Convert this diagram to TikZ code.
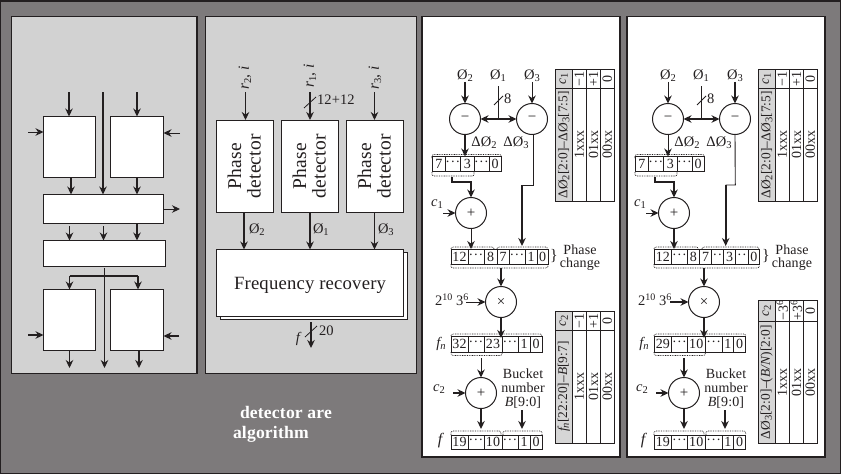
\documentclass[tikz,border=0pt]{standalone}
\usepackage{fontspec}
\setmainfont{Liberation Serif}[LetterSpace=1.0]
\usetikzlibrary{arrows.meta,calc}
\definecolor{ink}{HTML}{231F20}
\definecolor{bgdark}{HTML}{7D7A7B}
\definecolor{panelgray}{HTML}{D2D2D2}
\definecolor{cellgray}{HTML}{D6D6D6}
\newcommand{\fs}[1]{\fontsize{#1}{#1}\selectfont}
\newcommand{\lowsub}[1]{\raisebox{-0.3ex}{\fs{10.5}#1}}
\newcommand{\highsup}[1]{\raisebox{0.75ex}{\fs{10}#1}}
\newcommand{\Oz}[1]{Ø\lowsub{#1}}
\newcommand{\dOz}[1]{ΔØ\lowsub{#1}}
\newcommand{\dd}{·\kern.4pt·\kern.4pt·}
\newcommand{\mkcell}[6]{\node[cell,minimum width={(#3-#2)*1pt},minimum height={(#5-#4)*1pt}] (#1) at ({(#2+#3)/2},{(#4+#5)/2}) {#6};}
\newcommand{\mkhead}[6]{\node[cell,fill=cellgray,font=\fs{13.4},minimum width={(#3-#2)*1pt},minimum height={(#5-#4)*1pt}] (#1) at ({(#2+#3)/2},{(#4+#5)/2}) {\rotatebox{90}{#6}};}
\newcommand{\mkrot}[6]{\node[cell,minimum width={(#3-#2)*1pt},minimum height={(#5-#4)*1pt}] (#1) at ({(#2+#3)/2},{(#4+#5)/2}) {\rotatebox{90}{#6}};}
\tikzset{
  x=1pt,y=-1pt,
  every node/.style={text=ink,inner sep=0pt,outer sep=0pt},
  box/.style={draw=ink,fill=white,line width=1pt,align=center},
  cell/.style={draw=ink,fill=white,line width=0.9pt,font=\fs{14}},
  panelp/.style={draw=ink,line width=1.5pt},
  pdbox/.style={box,minimum width=57pt,minimum height=92.5pt,font=\fs{19}},
  op/.style={draw=ink,fill=white,circle,line width=1pt,minimum size=31pt,font=\fs{15}},
  lab/.style={font=\fs{14.5}},
  labs/.style={font=\fs{14}},
  arr/.style={draw=ink,line width=0.9pt,-{Stealth[length=8pt,width=7.5pt,inset=2.6pt]}},
  arrb/.style={draw=ink,line width=1.6pt,-{Stealth[length=8pt,width=7.5pt,inset=2.6pt]}},
  linet/.style={draw=ink,line width=0.9pt},
  lineb/.style={draw=ink,line width=1.6pt},
  dotp/.style={draw=ink,line width=0.7pt,dash pattern=on 0.8pt off 0.9pt,rounded corners=2pt},
  slash/.style={draw=ink,line width=0.8pt},
}
\begin{document}
\begin{tikzpicture}
\useasboundingbox (0,0) rectangle (841,474);
\fill[bgdark] (0,0) rectangle (841,474);
\draw[ink,line width=2pt] (0,0) rectangle (841,474);
\fill[ink] (0,0) rectangle (841,2);
% panels
\filldraw[panelp,fill=panelgray] (11.5,16.5) rectangle (197,373.5);
\filldraw[panelp,fill=panelgray] (205.5,16.5) rectangle (416.5,373.5);
\filldraw[panelp,fill=white] (422,16.5) rectangle (620,457);
\filldraw[panelp,fill=white] (627,16.5) rectangle (825,457);
% panel 1
\node[box,minimum width=52pt,minimum height=60.5pt] (tl) at (69.5,146.75) {};
\node[box,minimum width=53pt,minimum height=60.5pt] (tr) at (137,146.75) {};
\node[box,minimum width=120pt,minimum height=28.5pt] (wa) at (103.5,208.75) {};
\node[box,minimum width=122pt,minimum height=26pt] (wb) at (104.5,253.5) {};
\node[box,minimum width=52pt,minimum height=61pt] (bl) at (69.5,320) {};
\node[box,minimum width=53pt,minimum height=61pt] (br) at (137,320) {};
\coordinate (t1) at (69,92); \coordinate (t2) at (103,92); \coordinate (t3) at (137,92);
\draw[arrb] (t1) -- (t1 |- tl.north);
\draw[arrb] (t2) -- (t2 |- wa.north);
\draw[arrb] (t3) -- (t3 |- tr.north);
\coordinate (s1) at (28,132); \coordinate (s2) at (180,133); \coordinate (s3) at (180,209);
\draw[arr] (s1) -- (s1 -| tl.west);
\draw[arr] (s2) -- (s2 -| tr.east);
\draw[arr] (s3 -| wa.east) -- (s3);
\draw[arrb] ([xshift=1.5pt]tl.south) -- ([xshift=1.5pt]tl.south |- wa.north);
\draw[arrb] (tr.south) -- (tr.south |- wa.north);
\draw[arr] ([yshift=-3pt]tl.south |- wa.south) -- (tl.south |- wb.north);
\draw[arrb] ([yshift=-3pt]wa.south) -- (wa.south |- wb.north);
\draw[arrb] (tr.south |- wa.south) -- (tr.south |- wb.north);
\coordinate (busl) at (69.5,276); \coordinate (busr) at (138,276);
\draw[lineb] (busl) -- (busr);
\draw[arrb] (busl) -- (busl |- bl.north);
\draw[arrb] (busr) -- (busr |- br.north);
\coordinate (v1) at (104.5,268); \coordinate (v2) at (104.5,368);
\draw[arr] (v1) -- (v2);
\coordinate (s4) at (28,335); \coordinate (s5) at (179,336);
\draw[arrb] (s4) -- (s4 -| bl.west);
\draw[arrb] (s5) -- (s5 -| br.east);
\coordinate (e1) at (69.5,368); \coordinate (e2) at (139,368);
\draw[arr] (e1 |- bl.south) -- (e1);
\draw[arrb] (e2 |- br.south) -- (e2);
% panel 2
\newcommand{\phdet}{\hspace*{4pt}\rotatebox{90}{\fs{19.5}\baselineskip=20pt\begin{tabular}{@{}c@{}}Phase\\detector\end{tabular}}}
\node[pdbox] (pa) at (245,166.25) {\phdet};
\node[pdbox] (pb) at (310,166.25) {\phdet};
\node[pdbox] (pc) at (375,166.25) {\phdet};
\node[lab,rotate=90,font=\fs{15.5}] (ra) at (245,78) {\itshape r\lowsub{\upshape 2}, i};
\node[lab,rotate=90,font=\fs{15.5}] (rb) at (310,76) {\itshape r\lowsub{\upshape 1}, i};
\node[lab,rotate=90,font=\fs{15.5}] (rc) at (375,78) {\itshape r\lowsub{\upshape 3}, i};
\coordinate (ar) at (245.5,92); \coordinate (br1) at (310,92); \coordinate (cr) at (374.5,92);
\draw[arr] (ar) -- (ar |- pa.north);
\draw[arrb] (br1) -- (br1 |- pb.north);
\draw[arr] (cr) -- (cr |- pc.north);
\draw[slash] (304,108) -- (316,97);
\node[lab,anchor=west] (wd) at (317,100) {12+12};
\node[box,minimum width=187pt,minimum height=67pt] (frs) at (314,286) {};
\node[box,minimum width=187pt,minimum height=67pt,font=\fs{18.7}] (fr) at (310,283) {\smash{\raisebox{-6pt}{Frequency recovery}}};
\coordinate (oa) at (244,212.5); \coordinate (ob) at (310,212.5); \coordinate (oc) at (374.5,212.5);
\draw[arrb] (oa) -- (oa |- fr.north);
\draw[arrb] (ob) -- (ob |- fr.north);
\draw[arr] (oc) -- (oc |- fr.north);
\node[lab,anchor=west] (la) at (249,230) {\Oz{2}};
\node[lab,anchor=west] (lb) at (313,230) {\Oz{1}};
\node[lab,anchor=west] (lc) at (378,230) {\Oz{3}};
\coordinate (fo) at (311,348);
\draw[arrb] (fo |- 0,322) -- (fo);
\draw[slash] (305,337) -- (317,326);
\node[lab] (ff) at (298,339) {\itshape f};
\node[lab,anchor=west] (f20) at (319,331) {20};
% caption
\node[anchor=west,text=white,font=\fs{17.6}\bfseries] (cap1) at (240,412) {detector are};
\node[anchor=west,text=white,font=\fs{17.6}\bfseries] (cap2) at (233,434) {algorithm};
% panel 3
\begin{scope}
\node[lab] (aO2) at (465,76) {\Oz{2}};
\node[lab] (aO1) at (498,76) {\Oz{1}};
\node[lab] (aO3) at (532,76) {\Oz{3}};
\node[op] (asa) at (465,119) {−};
\node[op] (asb) at (532,119) {−};
\coordinate (aj) at (498.5,119); \coordinate (ajt) at (498.5,86);
\draw[arrb] (aO2.south) -- (asa.north);
\draw[arr] (aO3.south) -- (asb.north);
\draw[linet] (ajt) -- (aj);
\draw[draw=ink,line width=1.6pt,{Stealth[length=8pt,width=7.5pt,inset=2.6pt]}-{Stealth[length=8pt,width=7.5pt,inset=2.6pt]}] (asa.east) -- (asb.west);
\draw[slash] (494,105) -- (503,96);
\node[lab,anchor=west] (a8) at (504,99) {8};
\node[lab] (adA) at (484,143) {\dOz{2}};
\node[lab] (adB) at (516,143) {\dOz{3}};
\mkcell{ar1a}{432.5}{445}{156.5}{171.5}{7}
\mkcell{ar1b}{445}{460.7}{156.5}{171.5}{\dd}
\mkcell{ar1c}{460.7}{474}{156.5}{171.5}{3}
\mkcell{ar1d}{474}{489}{156.5}{171.5}{\dd}
\mkcell{ar1e}{489}{501}{156.5}{171.5}{0}
\draw[dotp] (432,156) -- (432,154.5) -- (501.5,154.5) -- (501.5,156);
\draw[dotp] (432,172) -- (432,176) -- (474,176) -- (474,172);
\draw[arrb] (asa.south) -- (asa.south |- ar1a.north);
\node[op] (aaa) at (471,213) {+};
\coordinate (ak1) at (452,177); \coordinate (ak2) at (452,182);
\draw[arrb] (ak1) -- (ak2) -| (aaa.north);
\node[lab] (ac1) at (437,204) {\itshape c\lowsub{\upshape 1}};
\coordinate (ac1s) at (443,213);
\draw[arr] (ac1s) -- (aaa.west);
\mkcell{ar2a}{451}{468}{249}{264}{12}
\mkcell{ar2b}{468}{484}{249}{264}{\dd}
\mkcell{ar2c}{484}{497}{249}{264}{8}
\mkcell{ar2d}{497}{509}{249}{264}{7}
\mkcell{ar2e}{509}{525}{249}{264}{\dd}
\mkcell{ar2f}{525}{537}{249}{264}{1}
\mkcell{ar2g}{537}{548}{249}{264}{0}
\draw[dotp] (451,249) -- (451,247) -- (494,247) -- (494,249);
\draw[dotp] (497,249) -- (497,247) -- (547.5,247) -- (547.5,249);
\draw[dotp] (451,264) -- (451,268) -- (548,268) -- (548,264);
\draw[arr] (aaa.south) -- (aaa.south |- ar2a.north);
\coordinate (ab1) at (533,185); \coordinate (ab2) at (522,185); \coordinate (ab3) at (522,246);
\draw[linet] ([xshift=1pt]asb.south) -- (ab1) -- (ab2);
\draw[arrb] (ab2) -- (ab3);
\node[font=\fs{16}] (abr) at (554,256) {\}};
\node[labs] (aph) at (580,249.5) {Phase};
\node[labs] (ach) at (580,264) {change};
\node[op] (amu) at (501,302) {×};
\coordinate (am0) at (501,268);
\draw[arrb] (am0) -- (amu.north);
\node[lab,anchor=west] (a2p) at (435,300) {2\highsup{10} 3\highsup{6}};
\coordinate (a2s) at (466,302);
\draw[arr] (a2s) -- (amu.west);
\mkcell{ar3a}{451}{468}{336}{352}{32}
\mkcell{ar3b}{468}{484}{336}{352}{\dd}
\mkcell{ar3c}{484}{502}{336}{352}{23}
\mkcell{ar3d}{502}{518}{336}{352}{\dd}
\mkcell{ar3e}{518}{530}{336}{352}{1}
\mkcell{ar3f}{530}{542}{336}{352}{0}
\draw[dotp] (451,336) -- (451,334) -- (542,334) -- (542,336);
\draw[dotp] (451,352) -- (451,355.5) -- (502,355.5) -- (502,352);
\draw[arrb] (amu.south) -- ([yshift=-2pt]amu.south |- ar3c.north);
\node[lab] (afn) at (441,344) {\itshape f\lowsub{n}};
\node[op] (aab) at (481,393) {+};
\coordinate (ap1) at (481,358);
\draw[arr] (ap1) -- (aab.north);
\node[lab] (ac2) at (439,389) {\itshape c\lowsub{\upshape 2}};
\coordinate (ac2s) at (453,393);
\draw[arrb] (ac2s) -- (aab.west);
\node[labs] (abu1) at (523,374) {Bucket};
\node[labs] (abu2) at (523,388) {number};
\node[labs] (abu3) at (523,403) {\itshape B\upshape[9:0]};
\mkcell{ar4a}{451}{468}{435}{449}{19}
\mkcell{ar4b}{468}{484}{435}{449}{\dd}
\mkcell{ar4c}{484}{502}{435}{449}{10}
\mkcell{ar4d}{502}{518}{435}{449}{\dd}
\mkcell{ar4e}{518}{530}{435}{449}{1}
\mkcell{ar4f}{530}{542}{435}{449}{0}
\draw[dotp] (451,435) -- (451,431) -- (501,431) -- (501,435);
\draw[dotp] (503,435) -- (503,431) -- (542,431) -- (542,435);
\coordinate (ac) at (481,429); \coordinate (ad0) at (522,410); \coordinate (ad1) at (522,429);
\draw[arrb] (aab.south) -- (ac);
\draw[arrb] (ad0) -- (ad1);
% tables
\mkhead{at1}{555.5}{572}{69.5}{88.5}{\itshape c\lowsub{\upshape 1}}
\mkrot{at2}{572}{586.5}{69.5}{88.5}{−1}
\mkrot{at3}{586.5}{600.5}{69.5}{88.5}{+1}
\mkrot{at4}{600.5}{614}{69.5}{88.5}{0}
\mkhead{at5}{555.5}{572}{88.5}{201}{\dOz{2}[2:0]–\dOz{3}[7:5]}
\mkrot{at6}{572}{586.5}{88.5}{201}{1xxx}
\mkrot{at7}{586.5}{600.5}{88.5}{201}{01xx}
\mkrot{at8}{600.5}{614}{88.5}{201}{00xx}
\mkhead{au1}{555.5}{572}{311.5}{330}{\itshape c\lowsub{\upshape 2}}
\mkrot{au2}{572}{586.5}{311.5}{330}{−1}
\mkrot{au3}{586.5}{600.5}{311.5}{330}{+1}
\mkrot{au4}{600.5}{614}{311.5}{330}{0}
\mkhead{au5}{555.5}{572}{330}{443}{\itshape f\lowsub{n}\upshape[22:20]–\itshape B\upshape[9:7]}
\mkrot{au6}{572}{586.5}{330}{443}{1xxx}
\mkrot{au7}{586.5}{600.5}{330}{443}{01xx}
\mkrot{au8}{600.5}{614}{330}{443}{00xx}
\node[lab,font=\fs{16}] (af) at (440,441) {\itshape f};
\end{scope}
% panel 4
\begin{scope}[xshift=203pt]
\node[lab] (bO2) at (465,76) {\Oz{2}};
\node[lab] (bO1) at (498,76) {\Oz{1}};
\node[lab] (bO3) at (532,76) {\Oz{3}};
\node[op] (bsa) at (465,119) {−};
\node[op] (bsb) at (532,119) {−};
\coordinate (bj) at (498.5,119); \coordinate (bjt) at (498.5,86);
\draw[arr] (bO2.south) -- (bsa.north);
\draw[arrb] (bO3.south) -- (bsb.north);
\draw[lineb] (bjt) -- (bj);
\draw[draw=ink,line width=1.6pt,{Stealth[length=8pt,width=7.5pt,inset=2.6pt]}-{Stealth[length=8pt,width=7.5pt,inset=2.6pt]}] (bsa.east) -- (bsb.west);
\draw[slash] (494,105) -- (503,96);
\node[lab,anchor=west] (b8) at (504,99) {8};
\node[lab] (bdA) at (484,143) {\dOz{2}};
\node[lab] (bdB) at (516,143) {\dOz{3}};
\mkcell{br1a}{432.5}{445}{156.5}{171.5}{7}
\mkcell{br1b}{445}{460.7}{156.5}{171.5}{\dd}
\mkcell{br1c}{460.7}{474}{156.5}{171.5}{3}
\mkcell{br1d}{474}{489}{156.5}{171.5}{\dd}
\mkcell{br1e}{489}{501}{156.5}{171.5}{0}
\draw[dotp] (432,156) -- (432,154.5) -- (501.5,154.5) -- (501.5,156);
\draw[dotp] (432,172) -- (432,176) -- (474,176) -- (474,172);
\draw[arr] (bsa.south) -- (bsa.south |- br1a.north);
\node[op] (baa) at (471,213) {+};
\coordinate (bk1) at (452,177); \coordinate (bk2) at (452,182);
\draw[arrb] (bk1) -- (bk2) -| (baa.north);
\node[lab] (bc1) at (437,204) {\itshape c\lowsub{\upshape 1}};
\coordinate (bc1s) at (443,213);
\draw[arr] (bc1s) -- (baa.west);
\mkcell{br2a}{451}{468.7}{249}{264}{12}
\mkcell{br2b}{468.7}{484.3}{249}{264}{\dd}
\mkcell{br2c}{484.3}{496.3}{249}{264}{8}
\mkcell{br2d}{496.3}{508.7}{249}{264}{7}
\mkcell{br2e}{508.7}{520.3}{249}{264}{·\kern.4pt·}
\mkcell{br2f}{520.3}{532.7}{249}{264}{3}
\mkcell{br2g}{532.7}{545.3}{249}{264}{·\kern.4pt·}
\mkcell{br2h}{545.3}{556.3}{249}{264}{0}
\draw[dotp] (451,249) -- (451,247) -- (495,247) -- (495,249);
\draw[dotp] (499,249) -- (499,247) -- (556,247) -- (556,249);
\draw[dotp] (451,264) -- (451,268) -- (556.3,268) -- (556.3,264);
\draw[arrb] (baa.south) -- (baa.south |- br2a.north);
\coordinate (bb1) at (532.3,185); \coordinate (bb2) at (522.7,185); \coordinate (bb3) at (522.7,246);
\draw[linet] (bsb.south) -- (bb1) -- (bb2);
\draw[arrb] (bb2) -- (bb3);
\node[font=\fs{16}] (bbr) at (563,256) {\}};
\node[labs] (bph) at (589,249.5) {Phase};
\node[labs] (bch) at (589,264) {change};
\node[op] (bmu) at (501,302) {×};
\coordinate (bm0) at (501,268);
\draw[arrb] (bm0) -- (bmu.north);
\node[lab,anchor=west] (b2p) at (435,300) {2\highsup{10} 3\highsup{6}};
\coordinate (b2s) at (467,302);
\draw[arrb] (b2s) -- (bmu.west);
\mkcell{br3a}{451}{468.7}{336}{352}{29}
\mkcell{br3b}{468.7}{484.3}{336}{352}{\dd}
\mkcell{br3c}{484.3}{502.3}{336}{352}{10}
\mkcell{br3d}{502.3}{519}{336}{352}{\dd}
\mkcell{br3e}{519}{530.7}{336}{352}{1}
\mkcell{br3f}{530.7}{542.7}{336}{352}{0}
\draw[dotp] (451,336) -- (451,334) -- (542.7,334) -- (542.7,336);
\draw[dotp] (451,352) -- (451,355.5) -- (502.3,355.5) -- (502.3,352);
\draw[arrb] (bmu.south) -- ([yshift=-2pt]bmu.south |- br3c.north);
\node[lab] (bfn) at (441,344) {\itshape f\lowsub{n}};
\node[op] (bab) at (481,393) {+};
\coordinate (bp1) at (481,358);
\draw[arrb] (bp1) -- (bab.north);
\node[lab] (bc2) at (439,389) {\itshape c\lowsub{\upshape 2}};
\coordinate (bc2s) at (453,393);
\draw[arrb] (bc2s) -- (bab.west);
\node[labs] (bbu1) at (523,374) {Bucket};
\node[labs] (bbu2) at (523,388) {number};
\node[labs] (bbu3) at (523,403) {\itshape B\upshape[9:0]};
\mkcell{br4a}{451}{468.7}{435}{449}{19}
\mkcell{br4b}{468.7}{484.3}{435}{449}{\dd}
\mkcell{br4c}{484.3}{502.3}{435}{449}{10}
\mkcell{br4d}{502.3}{519}{435}{449}{\dd}
\mkcell{br4e}{519}{530.7}{435}{449}{1}
\mkcell{br4f}{530.7}{542.7}{435}{449}{0}
\draw[dotp] (451,435) -- (451,431) -- (501,431) -- (501,435);
\draw[dotp] (503,435) -- (503,431) -- (542.7,431) -- (542.7,435);
\coordinate (bcc) at (481,429); \coordinate (bd0) at (522,410); \coordinate (bd1) at (522,429);
\draw[arrb] (bab.south) -- (bcc);
\draw[arrb] (bd0) -- (bd1);
% tables
\mkhead{bt1}{555.5}{572}{69.5}{88.5}{\itshape c\lowsub{\upshape 1}}
\mkrot{bt2}{572}{586.5}{69.5}{88.5}{−1}
\mkrot{bt3}{586.5}{600.5}{69.5}{88.5}{+1}
\mkrot{bt4}{600.5}{614}{69.5}{88.5}{0}
\mkhead{bt5}{555.5}{572}{88.5}{201}{\dOz{2}[2:0]–\dOz{3}[7:5]}
\mkrot{bt6}{572}{586.5}{88.5}{201}{1xxx}
\mkrot{bt7}{586.5}{600.5}{88.5}{201}{01xx}
\mkrot{bt8}{600.5}{614}{88.5}{201}{00xx}
\mkhead{bu1}{555.5}{572}{300}{321.7}{\itshape c\lowsub{\upshape 2}}
\mkrot{bu2}{572}{586.5}{300}{321.7}{−3\highsup{6}}
\mkrot{bu3}{586.5}{600.5}{300}{321.7}{+3\highsup{6}}
\mkrot{bu4}{600.5}{614}{300}{321.7}{0}
\mkhead{bu5}{555.5}{572}{321.7}{443}{\dOz{3}[2:0]–(\itshape B/N\upshape)[2:0]}
\mkrot{bu6}{572}{586.5}{321.7}{443}{1xxx}
\mkrot{bu7}{586.5}{600.5}{321.7}{443}{01xx}
\mkrot{bu8}{600.5}{614}{321.7}{443}{00xx}
\node[lab,font=\fs{16}] (bf) at (440,441) {\itshape f};
\end{scope}
\end{tikzpicture}
\end{document}
